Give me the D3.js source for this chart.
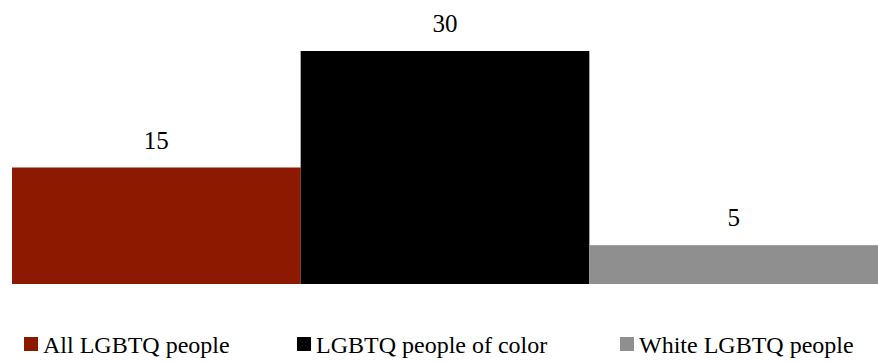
<!DOCTYPE html>
<html>
<head>
<meta charset="utf-8">
<script src="https://cdn.jsdelivr.net/npm/d3@7"></script>
</head>
<body style="margin:0; background:#fff">
<div id="chart"></div>
<script>
// Share of respondents by group
const categories = ["All LGBTQ people", "LGBTQ people of color", "White LGBTQ people"];
const values = [15, 30, 5];
const colors = ["#8c1900", "#000000", "#8f8f8f"];

const FONT = "'Liberation Serif', 'Times New Roman', serif";
const width = 878, height = 363;
const svg = d3.select("#chart").append("svg")
  .attr("width", width).attr("height", height)
  .style("display", "block");

const x = d3.scaleBand().domain(categories).range([12, 878]).padding(0);
const y = d3.scaleLinear().domain([0, 30]).range([284, 51]);

// Bars, touching edge to edge
svg.selectAll("rect.bar")
  .data(categories)
  .join("rect")
  .attr("class", "bar")
  .attr("x", d => x(d))
  .attr("width", x.bandwidth())
  .attr("y", (d, i) => y(values[i]))
  .attr("height", (d, i) => y(0) - y(values[i]))
  .attr("fill", (d, i) => colors[i]);

// Value labels above each bar
svg.selectAll("text.val")
  .data(categories)
  .join("text")
  .attr("class", "val")
  .attr("x", d => x(d) + x.bandwidth() / 2)
  .attr("y", (d, i) => y(values[i]) - 19)
  .attr("text-anchor", "middle")
  .attr("font-family", FONT)
  .attr("font-size", 25)
  .text((d, i) => values[i]);

// Legend along the bottom
const legendX = [24, 297, 620];
const legend = svg.selectAll("g.leg")
  .data(categories)
  .join("g")
  .attr("class", "leg")
  .attr("transform", (d, i) => `translate(${legendX[i]},337)`);

legend.append("rect")
  .attr("width", 14).attr("height", 14)
  .attr("fill", (d, i) => colors[i]);

legend.append("text")
  .attr("x", 19)
  .attr("y", 16)
  .attr("font-family", FONT)
  .attr("font-size", 24)
  .text(d => d);
</script>
</body>
</html>
